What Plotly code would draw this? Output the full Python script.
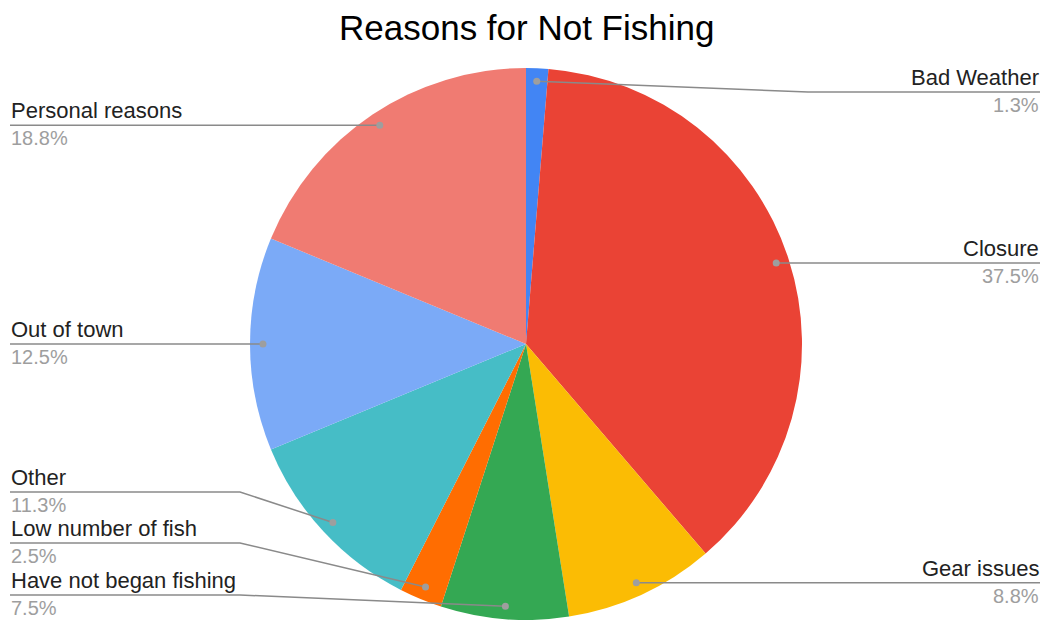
import math
import plotly.graph_objects as go

# Survey results: reasons respondents gave for not fishing (share of responses, %)
categories = [
    "Bad Weather",
    "Closure",
    "Gear issues",
    "Have not began fishing",
    "Low number of fish",
    "Other",
    "Out of town",
    "Personal reasons",
]
percents = [1.3, 37.5, 8.8, 7.5, 2.5, 11.3, 12.5, 18.8]
colors = ["#4285F4", "#EA4335", "#FBBC04", "#34A853",
          "#FF6D01", "#46BDC6", "#7BAAF7", "#F07B72"]

W, H = 1047, 620
CX, CY, R = 526, 344, 276          # pie centre / radius in page pixels
DOT_R = 0.953 * R                  # radius where the callout dots sit
FONT = "Liberation Sans, Arial, sans-serif"

# callout placement: side, label line y (None -> level with dot), elbow x
callouts = {
    "Bad Weather": ("right", 92, 808),
    "Closure": ("right", None, None),
    "Gear issues": ("right", None, None),
    "Have not began fishing": ("left", 595, 240),
    "Low number of fish": ("left", 543, 240),
    "Other": ("left", 492, 240),
    "Out of town": ("left", None, None),
    "Personal reasons": ("left", None, None),
}
LEFT_X, RIGHT_X = 10, 1040

fig = go.Figure()

fig.add_trace(go.Pie(
    labels=categories,
    values=percents,
    marker=dict(colors=colors, line=dict(width=0)),
    sort=False,
    direction="clockwise",
    rotation=0,
    textinfo="none",
    hoverinfo="label+percent",
    showlegend=False,
    domain=dict(x=[(CX - R) / W, (CX + R) / W],
                y=[(H - CY - R) / H, (H - CY + R) / H]),
))

# invisible trace so the pixel-space cartesian axes are created
fig.add_trace(go.Scatter(x=[0, W], y=[0, H], mode="markers",
                         marker=dict(opacity=0), hoverinfo="skip",
                         showlegend=False))

total = sum(percents)
cum = 0.0
annotations = []
shapes = []
for name, pct in zip(categories, percents):
    mid = (cum + pct / 2) / total
    cum += pct
    ang = 2 * math.pi * mid
    dx = CX + DOT_R * math.sin(ang)
    dy = CY - DOT_R * math.cos(ang)

    side, ly, bend = callouts[name]
    end_x = RIGHT_X if side == "right" else LEFT_X
    if ly is None:
        ly = dy
    pts = [(dx, dy)]
    if bend is not None:
        pts.append((bend, ly))
    pts.append((end_x, ly))
    path = "M " + " L ".join(f"{px:.2f},{py:.2f}" for px, py in pts)

    shapes.append(dict(type="path", path=path, xref="x", yref="y",
                       line=dict(color="#8a8a8a", width=1.5), layer="above"))
    shapes.append(dict(type="circle", xref="x", yref="y",
                       x0=dx - 3.5, x1=dx + 3.5, y0=dy - 3.5, y1=dy + 3.5,
                       fillcolor="#9e9e9e", line=dict(width=0), layer="above"))

    anchor = "right" if side == "right" else "left"
    annotations.append(dict(
        x=end_x, y=ly, xref="x", yref="y", text=name, showarrow=False,
        xanchor=anchor, yanchor="bottom", yshift=1, borderpad=0,
        font=dict(family=FONT, size=22, color="#222222"),
    ))
    annotations.append(dict(
        x=end_x, y=ly, xref="x", yref="y", text=f"{pct:.1f}%", showarrow=False,
        xanchor=anchor, yanchor="top", yshift=-1, borderpad=0,
        font=dict(family=FONT, size=20, color="#9e9e9e"),
    ))

annotations.append(dict(
    x=CX, y=27, xref="x", yref="y", text="Reasons for Not Fishing",
    showarrow=False, xanchor="center", yanchor="middle",
    font=dict(family=FONT, size=35, color="#000000"),
))

fig.update_layout(
    width=W, height=H,
    margin=dict(l=0, r=0, t=0, b=0),
    paper_bgcolor="white", plot_bgcolor="rgba(0,0,0,0)",
    xaxis=dict(range=[0, W], visible=False, fixedrange=True),
    yaxis=dict(range=[H, 0], visible=False, fixedrange=True),
    annotations=annotations,
    shapes=shapes,
)

fig.write_html("out.html")
